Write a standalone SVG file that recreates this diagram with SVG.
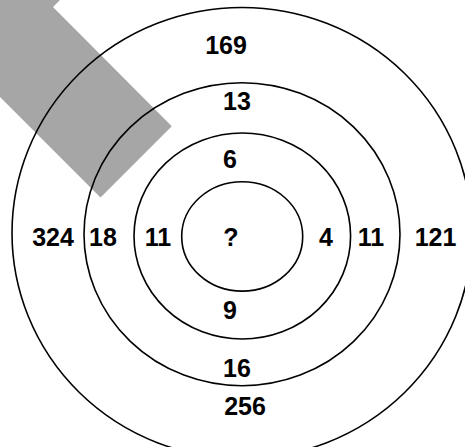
<svg xmlns="http://www.w3.org/2000/svg" width="465" height="447" viewBox="0 0 465 447">
<style>
.ring{fill:none;stroke:#000;stroke-width:1.6}
.lbl{font-family:"Liberation Sans",Arial,sans-serif;font-weight:bold;font-size:25px;fill:#000;text-anchor:middle}
</style>
<rect width="465" height="447" fill="#fff"/>
<polygon id="band" points="0,0 60,0 53,7 171.75,126.25 100.5,197.5 0,97" fill="#a6a6a6"/>
<g id="ring4"><ellipse class="ring" cx="242" cy="233" rx="230" ry="225.5"/></g>
<g id="ring3"><ellipse class="ring" cx="242" cy="234.2" rx="158" ry="151.5"/></g>
<g id="ring2"><ellipse class="ring" cx="242.3" cy="236" rx="108.3" ry="103"/></g>
<g id="ring1"><ellipse class="ring" cx="242.2" cy="236.4" rx="60.5" ry="54.7"/></g>
<g id="labels">
<text class="lbl" x="226" y="54">169</text>
<text class="lbl" x="237" y="110">13</text>
<text class="lbl" x="230" y="168">6</text>
<text class="lbl" x="231" y="246">?</text>
<text class="lbl" x="326" y="246">4</text>
<text class="lbl" x="371" y="246">11</text>
<text class="lbl" x="435.5" y="246">121</text>
<text class="lbl" x="53" y="246">324</text>
<text class="lbl" x="103" y="246">18</text>
<text class="lbl" x="158" y="246">11</text>
<text class="lbl" x="230" y="319">9</text>
<text class="lbl" x="237" y="377">16</text>
<text class="lbl" x="245" y="415">256</text>
</g>
</svg>
